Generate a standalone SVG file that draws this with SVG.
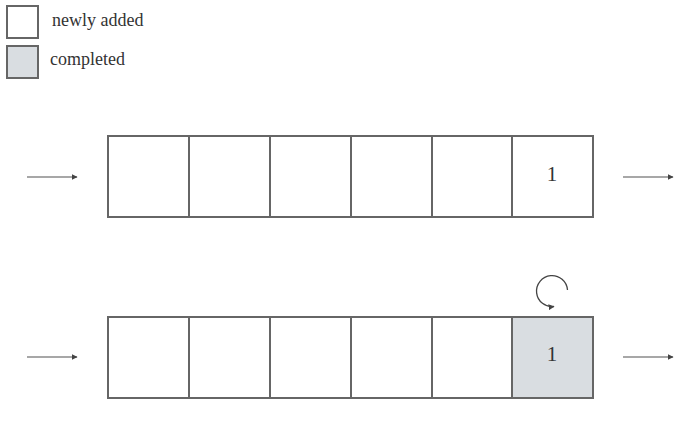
<svg xmlns="http://www.w3.org/2000/svg" width="700" height="436" viewBox="0 0 700 436">
<defs>
<style>
.cell{fill:#ffffff;stroke:#666666;stroke-width:2}
.done{fill:#d9dde1}
.t{font-family:"Liberation Serif","DejaVu Serif",serif;fill:#333333}
.lbl{font-size:18px}
.num{font-size:21px;text-anchor:middle}
.arr{stroke:#8a8a8a;stroke-width:1.5;fill:none;marker-end:url(#ah)}
.loop{stroke:#444444;stroke-width:1.3;fill:none;marker-end:url(#ah2)}
</style>
<marker id="ah" viewBox="0 0 10 10" refX="9" refY="5" markerWidth="6" markerHeight="6" markerUnits="userSpaceOnUse" orient="auto">
<path d="M0,0 L10,5 L0,10 z" fill="#444444"/>
</marker>
<marker id="ah2" viewBox="0 0 10 10" refX="9" refY="5" markerWidth="6" markerHeight="6" markerUnits="userSpaceOnUse" orient="auto">
<path d="M0,0 L10,5 L0,10 z" fill="#444444"/>
</marker>
</defs>
<g id="legend">
<g id="legend-new"><rect class="cell" x="7" y="6" width="31" height="32"/><text class="t lbl" x="52" y="26">newly added</text></g>
<g id="legend-done"><rect class="cell done" x="7" y="46" width="31" height="32"/><text class="t lbl" x="50" y="65">completed</text></g>
</g>
<g id="queue1">
<rect class="cell" x="108" y="136" width="81" height="81"/>
<rect class="cell" x="189" y="136" width="81" height="81"/>
<rect class="cell" x="270" y="136" width="81" height="81"/>
<rect class="cell" x="351" y="136" width="81" height="81"/>
<rect class="cell" x="432" y="136" width="80" height="81"/>
<g id="q1-item1"><rect class="cell" x="512" y="136" width="81" height="81"/><text class="t num" x="552" y="181">1</text></g>
</g>
<g id="queue2">
<rect class="cell" x="108" y="317" width="81" height="81"/>
<rect class="cell" x="189" y="317" width="81" height="81"/>
<rect class="cell" x="270" y="317" width="81" height="81"/>
<rect class="cell" x="351" y="317" width="81" height="81"/>
<rect class="cell" x="432" y="317" width="80" height="81"/>
<g id="q2-item1"><rect class="cell done" x="512" y="317" width="81" height="81"/><text class="t num" x="552" y="361">1</text></g>
</g>
<g id="connectors">
<line class="arr" x1="27" y1="177" x2="77" y2="177"/>
<line class="arr" x1="623" y1="177" x2="673" y2="177"/>
<line class="arr" x1="27" y1="357" x2="77" y2="357"/>
<line class="arr" x1="623" y1="357" x2="673" y2="357"/>
<path class="loop" d="M567.5,290 A15.5 15.5 0 1 0 554,306.5"/>
</g>
</svg>
